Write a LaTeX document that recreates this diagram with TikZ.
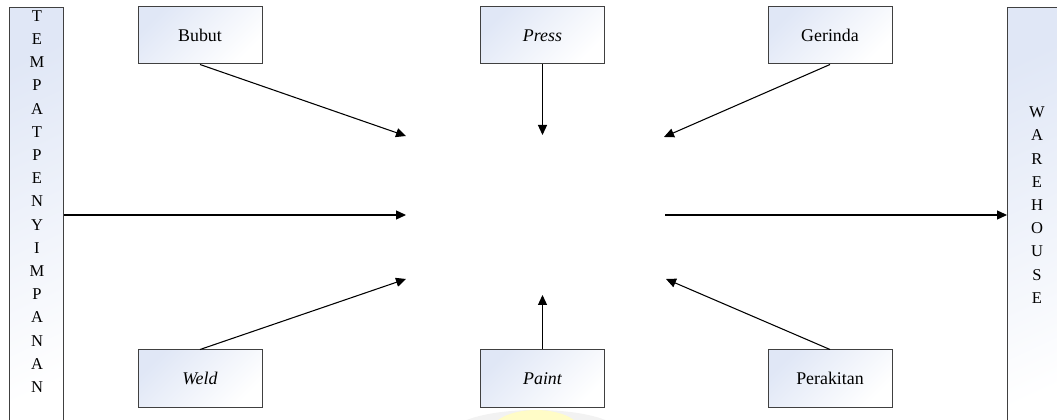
\documentclass[tikz,border=0pt]{standalone}
\usepackage{fontspec}
\setmainfont{Liberation Serif}
\usetikzlibrary{arrows.meta}
\definecolor{boxtint}{RGB}{224,231,246}
\definecolor{edgegrey}{RGB}{64,64,64}
\begin{document}
\begin{tikzpicture}[x=0.75pt,y=-0.75pt,
  station/.style={draw=edgegrey, line width=0.75pt,
    top color=boxtint, bottom color=white, shading angle=45,
    minimum width=93pt, minimum height=42.75pt, inner sep=0pt,
    font=\fontsize{13.4}{16}\selectfont},
  column/.style={draw=edgegrey, line width=0.75pt,
    top color=boxtint, bottom color=white, shading angle=25,
    minimum width=40.5pt, minimum height=322.5pt, inner sep=0pt,
    anchor=north west},
  lettering/.style={align=center, inner sep=0pt,
    font=\fontsize{12.4}{17.4}\selectfont},
  flow/.style={line width=0.8pt, -{Triangle[length=7.5pt,width=6.8pt]}}]

\clip (0,0) rectangle (1057,420);
\useasboundingbox (0,0) rectangle (1057,420);

% faint mark at the bottom edge
\fill[gray!10] (536,433) ellipse [x radius=84, y radius=23];
\fill[yellow!22] (536,433) ellipse [x radius=46, y radius=23];

% storage and warehouse columns
\node[column] (store) at (9,7) {};
\node[lettering] (storetext) at (37,201.5)
  {T\\E\\M\\P\\A\\T\\P\\E\\N\\Y\\I\\M\\P\\A\\N\\A\\N};
\node[column, minimum width=48pt] (wh) at (1007,7) {};
\node[lettering] (whtext) at (1037,205)
  {W\\A\\R\\E\\H\\O\\U\\S\\E};

% work stations
\node[station] (bubut) at (200,35.5) {Bubut};
\node[station] (press) at (542.5,35.5) {\itshape Press};
\node[station] (gerinda) at (830,35.5) {Gerinda};
\node[station] (weld) at (200,378.5) {\itshape Weld};
\node[station] (paint) at (542.5,378.5) {\itshape Paint};
\node[station] (perakitan) at (830,378.5) {Perakitan};

% arrow ends around the empty centre
\coordinate (hubL) at (406,215);
\coordinate (hubR) at (665,215);
\coordinate (endBubut) at (406,136);
\coordinate (endPress) at (542.5,135);
\coordinate (endGerinda) at (664,137);
\coordinate (endWeld) at (406,279);
\coordinate (endPaint) at (542.5,295);
\coordinate (endPerakitan) at (666,279);

% flows
\draw[flow] (store.east |- hubL) -- (hubL);
\draw[flow] (hubR) -- (wh.west |- hubR);
\draw[flow] (bubut.south) -- (endBubut);
\draw[flow] (press.south) -- (endPress);
\draw[flow] (gerinda.south) -- (endGerinda);
\draw[flow] (weld.north) -- (endWeld);
\draw[flow] (paint.north) -- (endPaint);
\draw[flow] (perakitan.north) -- (endPerakitan);
\end{tikzpicture}
\end{document}
